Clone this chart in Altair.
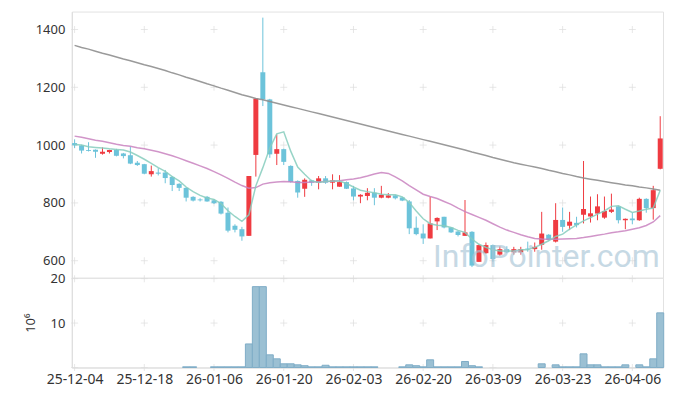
import altair as alt
import pandas as pd

dates = [
    "25-12-04", "25-12-05", "25-12-08", "25-12-09", "25-12-10", "25-12-11", "25-12-12", "25-12-15", "25-12-16", "25-12-17",
    "25-12-18", "25-12-19", "25-12-22", "25-12-23", "25-12-24", "25-12-26", "25-12-29", "25-12-30", "26-01-02", "26-01-05",
    "26-01-06", "26-01-07", "26-01-08", "26-01-09", "26-01-12", "26-01-13", "26-01-14", "26-01-15", "26-01-16", "26-01-19",
    "26-01-20", "26-01-21", "26-01-22", "26-01-23", "26-01-26", "26-01-27", "26-01-28", "26-01-29", "26-01-30", "26-02-02",
    "26-02-03", "26-02-04", "26-02-05", "26-02-06", "26-02-09", "26-02-10", "26-02-11", "26-02-12", "26-02-13", "26-02-19",
    "26-02-20", "26-02-23", "26-02-24", "26-02-25", "26-02-26", "26-02-27", "26-03-03", "26-03-04", "26-03-05", "26-03-06",
    "26-03-09", "26-03-10", "26-03-11", "26-03-12", "26-03-13", "26-03-16", "26-03-17", "26-03-18", "26-03-19", "26-03-20",
    "26-03-23", "26-03-24", "26-03-25", "26-03-26", "26-03-27", "26-03-30", "26-03-31", "26-04-01", "26-04-02", "26-04-03",
    "26-04-06", "26-04-07", "26-04-08", "26-04-09", "26-04-10",
]

opens = [1007, 999, 983, 984, 970, 976, 983, 971, 965, 939,
         934, 899, 905, 905, 890, 866, 852, 821, 812, 821,
         809, 804, 766, 721, 709, 686, 966, 1252, 1158, 970,
         986, 928, 876, 849, 878, 870, 885, 870, 856, 872,
         850, 822, 824, 835, 818, 818, 826, 819, 805, 714,
         694, 677, 736, 752, 715, 701, 686, 700, 596, 626,
         654, 621, 640, 629, 629, 642, 640, 655, 690, 666,
         741, 721, 731, 759, 753, 763, 749, 769, 788, 740,
         746, 740, 814, 782, 918]
highs = [1020, 1001, 1010, 985, 992, 984, 987, 973, 995, 945,
         935, 929, 920, 914, 893, 868, 854, 823, 816, 824,
         813, 806, 784, 726, 717, 893, 1163, 1441, 1160, 1037,
         988, 930, 878, 885, 880, 893, 893, 899, 896, 874,
         859, 830, 851, 851, 859, 834, 828, 821, 810, 753,
         726, 821, 750, 752, 716, 703, 810, 702, 656, 663,
         656, 650, 650, 648, 648, 666, 663, 769, 692, 799,
         784, 769, 752, 945, 822, 830, 822, 832, 790, 746,
         766, 818, 816, 859, 1100]
lows = [990, 971, 978, 956, 967, 971, 961, 954, 934, 928,
        899, 891, 895, 868, 841, 841, 805, 805, 805, 804,
        796, 760, 698, 698, 669, 686, 891, 1135, 956, 931,
        931, 870, 818, 821, 859, 847, 866, 847, 856, 848,
        809, 799, 809, 792, 816, 816, 812, 806, 692, 688,
        658, 677, 706, 712, 696, 684, 686, 578, 596, 624,
        597, 617, 626, 621, 621, 631, 631, 638, 670, 663,
        700, 706, 715, 729, 732, 740, 745, 765, 729, 709,
        726, 738, 766, 742, 916]
closes = [999, 981, 980, 977, 977, 983, 963, 962, 936, 931,
          901, 910, 901, 886, 862, 852, 818, 808, 809, 805,
          799, 763, 704, 707, 684, 893, 1161, 1158, 968, 986,
          942, 872, 836, 880, 870, 885, 870, 878, 872, 849,
          822, 828, 835, 818, 828, 826, 816, 808, 712, 692,
          677, 729, 748, 715, 698, 689, 698, 583, 654, 654,
          606, 640, 629, 640, 640, 640, 648, 694, 672, 741,
          717, 735, 723, 779, 764, 788, 772, 777, 740, 745,
          740, 814, 782, 844, 1023]

ma5 = [1002, 1000, 994, 992, 990, 987, 985, 983, 976, 964,
       951, 937, 922, 909, 891, 876, 855, 839, 826, 817,
       812, 798, 773, 753, 736, 759, 859, 922, 990, 1039,
       1046, 979, 924, 899, 876, 871, 874, 876, 876, 867,
       855, 844, 839, 835, 830, 828, 828, 821, 801, 772,
       745, 728, 723, 721, 715, 705, 698, 675, 657, 646,
       638, 634, 634, 634, 638, 638, 646, 657, 669, 684,
       692, 709, 724, 738, 749, 761, 772, 788, 790, 778,
       767, 772, 778, 782, 844]
ma20 = [1031, 1027, 1022, 1017, 1013, 1008, 1003, 999, 996, 991,
        987, 982, 977, 970, 963, 955, 946, 937, 928, 919,
        908, 897, 885, 872, 860, 851, 853, 865, 870, 872,
        874, 873, 871, 871, 872, 873, 874, 875, 877, 880,
        883, 887, 893, 900, 905, 902, 890, 876, 860, 845,
        830, 822, 815, 805, 795, 782, 770, 760, 750, 740,
        728, 716, 706, 698, 690, 683, 677, 675, 674, 674,
        675, 676, 677, 680, 684, 688, 692, 697, 700, 704,
        709, 714, 722, 734, 756]
ma120 = [1345, 1338, 1332, 1325, 1318, 1312, 1305, 1298, 1292, 1285,
         1278, 1272, 1265, 1258, 1250, 1243, 1235, 1228, 1220, 1212,
         1205, 1197, 1190, 1182, 1174, 1168, 1161, 1157, 1151, 1145,
         1139, 1133, 1127, 1121, 1115, 1109, 1103, 1097, 1091, 1085,
         1079, 1073, 1067, 1061, 1055, 1049, 1043, 1037, 1031, 1025,
         1019, 1013, 1007, 1001, 995, 989, 983, 976, 970, 964,
         957, 951, 945, 939, 934, 929, 924, 919, 913, 908,
         902, 897, 891, 886, 882, 878, 874, 870, 866, 862,
         859, 855, 852, 848, 844]
volume_m = [0, 0, 0, 0, 0, 0, 0, 0, 0, 0,
            0, 0, 0, 0, 0, 0, 0.15, 0.15, 0, 0,
            0.15, 0.15, 0.15, 0.15, 0.15, 5.3, 18.2, 18.2, 2.85, 1.95,
            0.83, 0.83, 0.6, 0.4, 0.15, 0.15, 0.5, 0.15, 0.15, 0.15,
            0.15, 0.15, 0.15, 0.15, 0, 0, 0, 0.15, 0.6, 0.4,
            0.15, 1.73, 0.15, 0.15, 0.15, 0.15, 1.35, 0.4, 0.15, 0,
            0, 0, 0, 0, 0, 0, 0, 0.83, 0, 0.6,
            0.15, 0.15, 0.15, 3.07, 0.6, 0.6, 0.15, 0.15, 0.15, 0.6,
            0, 0.6, 0.15, 1.95, 12.3]

tick_dates = ["25-12-04", "25-12-18", "26-01-06", "26-01-20", "26-02-03",
              "26-02-20", "26-03-09", "26-03-23", "26-04-06"]
price_ticks = [600, 800, 1000, 1200, 1400]
vol_ticks = [10, 20]
vol_cross_ticks = [0, 10, 20]
watermark = "InfoPointer.com"

UP, DOWN = "#ef3b41", "#6cc3da"
CROSS = "#dddddd"

n = len(dates)
df = pd.DataFrame({
    "i": list(range(n)), "date": dates, "open": opens, "high": highs,
    "low": lows, "close": closes, "ma5": ma5, "ma20": ma20, "ma120": ma120,
    "vol": volume_m,
})
df["dir"] = ["up" if c >= o else "down" for o, c in zip(opens, closes)]

tick_idx = [dates.index(d) for d in tick_dates]
label_expr = "[" + ",".join("'%s'" % d for d in dates) + "][datum.value]"

xscale = alt.Scale(domain=[-0.4, n - 0.6], nice=False, zero=False, padding=0)
pscale = alt.Scale(domain=[541, 1462], nice=False, zero=False, padding=0)
vscale = alt.Scale(domain=[0, 20.2], nice=False, zero=False, padding=0)

W = 593
PH, VH = 267, 90

py_axis = alt.Axis(values=price_ticks, format="d", grid=False, ticks=False, labelPadding=7,
                   title=None, domainColor="#dcdcdc", minExtent=22, maxExtent=22)
px = alt.X("i:Q", scale=xscale, axis=None)

color = alt.Color("dir:N", scale=alt.Scale(domain=["up", "down"], range=[UP, DOWN]), legend=None)

base = alt.Chart(df)
wicks = base.mark_rule(strokeWidth=1).encode(
    x=px, y=alt.Y("low:Q", scale=pscale, axis=py_axis), y2="high:Q", color=color)
bodies = base.mark_bar(size=5).encode(
    x=px, y=alt.Y("open:Q", scale=pscale, axis=py_axis), y2="close:Q", color=color)

def ma_line(field, col, op):
    return base.mark_line(strokeWidth=1.5, color=col, opacity=op).encode(
        x=px, y=alt.Y(field + ":Q", scale=pscale, axis=py_axis))

l120 = ma_line("ma120", "#8f8f8f", 0.9)
l20 = ma_line("ma20", "#c982c0", 0.85)
l5 = ma_line("ma5", "#86cdbd", 0.85)

pc = pd.DataFrame([(t, v) for t in tick_idx for v in price_ticks], columns=["i", "v"])
pcb = alt.Chart(pc).encode(x=px, y=alt.Y("v:Q", scale=pscale, axis=py_axis))
pcv = pcb.mark_tick(orient="vertical", size=7, thickness=1, color=CROSS)
pch = pcb.mark_tick(orient="horizontal", size=7, thickness=1, color=CROSS)

wm = alt.Chart(pd.DataFrame({"t": [watermark]})).mark_text(
    fontSize=32, font="Roboto", fontWeight=400,
    color="#a9c5d6", opacity=0.65,
    align="center", baseline="middle").encode(
    text="t:N", x=alt.value(476), y=alt.value(246))

price = alt.layer(pcv, pch, wicks, bodies, l120, l20, l5, wm).properties(width=W, height=PH)

vx = alt.X("i:Q", scale=xscale, axis=alt.Axis(
    values=tick_idx, labelExpr=label_expr, ticks=False, grid=False, title=None,
    labelPadding=5, labelFontSize=14, domainColor="#dcdcdc", labelFlush=False))
vy_axis = alt.Axis(values=vol_ticks, grid=False, ticks=False, labelPadding=7,
                   title="10⁶", titlePadding=12, domainColor="#dcdcdc",
                   minExtent=22, maxExtent=22)

vbars = base.transform_filter("datum.vol > 0").mark_bar(
    size=7, color="#9bc0d3", stroke="#7fadc7", strokeWidth=1).encode(
    x=vx, y=alt.Y("vol:Q", scale=vscale, axis=vy_axis))
vc = pd.DataFrame([(t, v) for t in tick_idx for v in vol_cross_ticks], columns=["i", "v"])
vcb = alt.Chart(vc).encode(x=vx, y=alt.Y("v:Q", scale=vscale, axis=vy_axis))
vcv = vcb.mark_tick(orient="vertical", size=7, thickness=1, color=CROSS)
vch = vcb.mark_tick(orient="horizontal", size=7, thickness=1, color=CROSS)

volume = alt.layer(vcv, vch, vbars).properties(width=W, height=VH)

chart = alt.vconcat(price, volume, spacing=0, bounds="flush").properties(
    padding={"left": 16, "top": 2, "right": 0, "bottom": 0}
).configure_view(stroke="#e2e2e2").configure_axis(
    labelFont="Noto Sans", labelFontSize=13, labelColor="#333333",
    titleFont="Noto Sans", titleFontSize=13, titleColor="#333333", titleFontWeight="normal"
)

chart.save("out.html", embed_options={"renderer": "svg", "actions": False})
